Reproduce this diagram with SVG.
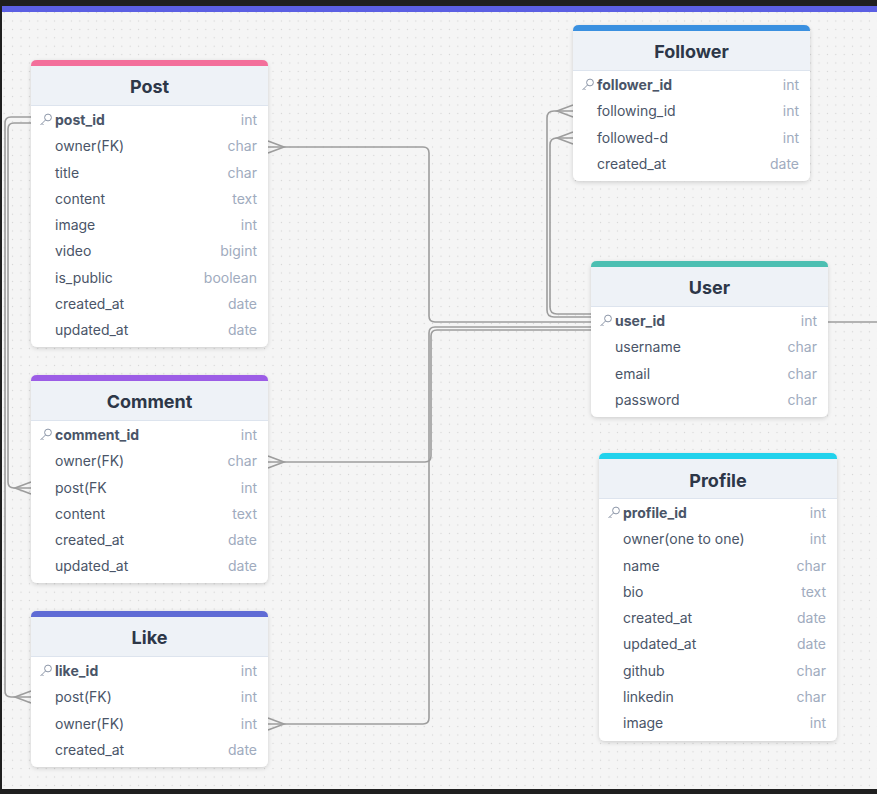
<svg xmlns="http://www.w3.org/2000/svg" xmlns:xlink="http://www.w3.org/1999/xlink" width="877" height="794" viewBox="0 0 877 794">
<style>
.tbl{fill:#ffffff;filter:url(#sh)}
.hdr{fill:#eef2f7}
.sep{stroke:#dde4ee;stroke-width:1}
.ttl{font-family:Inter,"Liberation Sans",sans-serif;font-size:18px;font-weight:700;fill:#2d3748;text-anchor:middle}
.fn{font-family:Inter,"Liberation Sans",sans-serif;font-size:14px;fill:#4a5568}
.pk{font-weight:700}
.ty{font-family:Inter,"Liberation Sans",sans-serif;font-size:14px;fill:#a0abbe;text-anchor:end}
.key{fill:none;stroke:#8b95a7;stroke-width:1}
.con{fill:none;stroke:#9d9d9d;stroke-width:1.6}
</style>
<defs>
<pattern id="dots" width="8.4" height="8.4" patternUnits="userSpaceOnUse">
<circle cx="4.2" cy="4.2" r="0.65" fill="#d2d2d2"/>
</pattern>
<filter id="sh" x="-10%" y="-10%" width="120%" height="120%">
<feDropShadow dx="0" dy="1.5" stdDeviation="2" flood-color="#000" flood-opacity="0.16"/>
</filter>
<g id="k">
<circle class="key" cx="3" cy="-2.5" r="3.4"/>
<path class="key" d="M0.6,-0.1 L-4.5,5 M-3,3.5 L-1.5,5"/>
</g>
</defs>
<rect width="877" height="794" fill="#f5f5f5"/>
<rect width="877" height="794" fill="url(#dots)"/>
<rect x="0" y="0" width="877" height="6" fill="#1f1f1f"/>
<rect x="0" y="6" width="877" height="6" fill="#5b5fe3"/>
<rect x="0" y="0" width="2" height="794" fill="#1f1f1f"/>
<rect x="0" y="789" width="877" height="5" fill="#1f1f1f"/>

<g id="connectors">
<path class="con" d="M268,147 H423 Q429,147 429,153 V316 Q429,322 435,322 H591"/>
<path class="con" d="M268,141 L284,147 L268,153"/>
<path class="con" d="M268,462 H425 Q431,462 431,456 V336 Q431,330 437,330 H591"/>
<path class="con" d="M268,456 L284,462 L268,468"/>
<path class="con" d="M268,724 H423 Q429,724 429,718 V333 Q429,327 435,327 H591"/>
<path class="con" d="M268,718 L284,724 L268,730"/>
<path class="con" d="M573,111 H554 Q547,111 547,118 V310 Q547,317 554,317 H591"/>
<path class="con" d="M573,105 L557,111 L573,117"/>
<path class="con" d="M573,138 H557 Q550,138 550,145 V307 Q550,314 557,314 H591"/>
<path class="con" d="M573,132 L557,138 L573,144"/>
<path class="con" d="M31,117 H11 Q5,117 5,123 V691 Q5,697 11,697 H31"/>
<path class="con" d="M31,691 L15,697 L31,703"/>
<path class="con" d="M31,123 H14 Q8,123 8,129 V482 Q8,488 14,488 H31"/>
<path class="con" d="M31,482 L15,488 L31,494"/>
<path class="con" d="M828,322 H877"/>
</g>

<g id="post" transform="translate(31,60)">
<rect class="tbl" width="237" height="287" rx="6"/>
<path class="hdr" d="M0,45 V6 Q0,0 6,0 H231 Q237,0 237,6 V45 Z"/>
<path fill="#f36f9b" d="M0,6 V5.5 Q0,0 6,0 H231 Q237,0 237,5.5 V6 Z"/>
<line class="sep" x1="0" y1="45.5" x2="237" y2="45.5"/>
<text class="ttl" x="118.5" y="33">Post</text>
<use href="#k" x="14" y="60"/>
<text class="fn pk" x="24" y="65">post_id</text><text class="ty" x="226" y="65">int</text>
<text class="fn" x="24" y="91.25">owner(FK)</text><text class="ty" x="226" y="91.25">char</text>
<text class="fn" x="24" y="117.5">title</text><text class="ty" x="226" y="117.5">char</text>
<text class="fn" x="24" y="143.75">content</text><text class="ty" x="226" y="143.75">text</text>
<text class="fn" x="24" y="170">image</text><text class="ty" x="226" y="170">int</text>
<text class="fn" x="24" y="196.25">video</text><text class="ty" x="226" y="196.25">bigint</text>
<text class="fn" x="24" y="222.5">is_public</text><text class="ty" x="226" y="222.5">boolean</text>
<text class="fn" x="24" y="248.75">created_at</text><text class="ty" x="226" y="248.75">date</text>
<text class="fn" x="24" y="275">updated_at</text><text class="ty" x="226" y="275">date</text>
</g>

<g id="comment" transform="translate(31,375)">
<rect class="tbl" width="237" height="208" rx="6"/>
<path class="hdr" d="M0,45 V6 Q0,0 6,0 H231 Q237,0 237,6 V45 Z"/>
<path fill="#9c5de6" d="M0,6 V5.5 Q0,0 6,0 H231 Q237,0 237,5.5 V6 Z"/>
<line class="sep" x1="0" y1="45.5" x2="237" y2="45.5"/>
<text class="ttl" x="118.5" y="33">Comment</text>
<use href="#k" x="14" y="60"/>
<text class="fn pk" x="24" y="65">comment_id</text><text class="ty" x="226" y="65">int</text>
<text class="fn" x="24" y="91.25">owner(FK)</text><text class="ty" x="226" y="91.25">char</text>
<text class="fn" x="24" y="117.5">post(FK</text><text class="ty" x="226" y="117.5">int</text>
<text class="fn" x="24" y="143.75">content</text><text class="ty" x="226" y="143.75">text</text>
<text class="fn" x="24" y="170">created_at</text><text class="ty" x="226" y="170">date</text>
<text class="fn" x="24" y="196.25">updated_at</text><text class="ty" x="226" y="196.25">date</text>
</g>

<g id="like" transform="translate(31,611)">
<rect class="tbl" width="237" height="156" rx="6"/>
<path class="hdr" d="M0,45 V6 Q0,0 6,0 H231 Q237,0 237,6 V45 Z"/>
<path fill="#5f6bd5" d="M0,6 V5.5 Q0,0 6,0 H231 Q237,0 237,5.5 V6 Z"/>
<line class="sep" x1="0" y1="45.5" x2="237" y2="45.5"/>
<text class="ttl" x="118.5" y="33">Like</text>
<use href="#k" x="14" y="60"/>
<text class="fn pk" x="24" y="65">like_id</text><text class="ty" x="226" y="65">int</text>
<text class="fn" x="24" y="91.25">post(FK)</text><text class="ty" x="226" y="91.25">int</text>
<text class="fn" x="24" y="117.5">owner(FK)</text><text class="ty" x="226" y="117.5">int</text>
<text class="fn" x="24" y="143.75">created_at</text><text class="ty" x="226" y="143.75">date</text>
</g>

<g id="follower" transform="translate(573,25)">
<rect class="tbl" width="237" height="156" rx="6"/>
<path class="hdr" d="M0,45 V6 Q0,0 6,0 H231 Q237,0 237,6 V45 Z"/>
<path fill="#3a90e0" d="M0,6 V5.5 Q0,0 6,0 H231 Q237,0 237,5.5 V6 Z"/>
<line class="sep" x1="0" y1="45.5" x2="237" y2="45.5"/>
<text class="ttl" x="118.5" y="33">Follower</text>
<use href="#k" x="14" y="60"/>
<text class="fn pk" x="24" y="65">follower_id</text><text class="ty" x="226" y="65">int</text>
<text class="fn" x="24" y="91.25">following_id</text><text class="ty" x="226" y="91.25">int</text>
<text class="fn" x="24" y="117.5">followed-d</text><text class="ty" x="226" y="117.5">int</text>
<text class="fn" x="24" y="143.75">created_at</text><text class="ty" x="226" y="143.75">date</text>
</g>

<g id="user" transform="translate(591,261)">
<rect class="tbl" width="237" height="156" rx="6"/>
<path class="hdr" d="M0,45 V6 Q0,0 6,0 H231 Q237,0 237,6 V45 Z"/>
<path fill="#4cbfb2" d="M0,6 V5.5 Q0,0 6,0 H231 Q237,0 237,5.5 V6 Z"/>
<line class="sep" x1="0" y1="45.5" x2="237" y2="45.5"/>
<text class="ttl" x="118.5" y="33">User</text>
<use href="#k" x="14" y="60"/>
<text class="fn pk" x="24" y="65">user_id</text><text class="ty" x="226" y="65">int</text>
<text class="fn" x="24" y="91.25">username</text><text class="ty" x="226" y="91.25">char</text>
<text class="fn" x="24" y="117.5">email</text><text class="ty" x="226" y="117.5">char</text>
<text class="fn" x="24" y="143.75">password</text><text class="ty" x="226" y="143.75">char</text>
</g>

<g id="profile" transform="translate(599,453)">
<rect class="tbl" width="238" height="288" rx="6"/>
<path class="hdr" d="M0,45 V6 Q0,0 6,0 H232 Q238,0 238,6 V45 Z"/>
<path fill="#22d2ec" d="M0,6 V5.5 Q0,0 6,0 H232 Q238,0 238,5.5 V6 Z"/>
<line class="sep" x1="0" y1="45.5" x2="238" y2="45.5"/>
<text class="ttl" x="119" y="34">Profile</text>
<use href="#k" x="14" y="60"/>
<text class="fn pk" x="24" y="65">profile_id</text><text class="ty" x="227" y="65">int</text>
<text class="fn" x="24" y="91.25">owner(one to one)</text><text class="ty" x="227" y="91.25">int</text>
<text class="fn" x="24" y="117.5">name</text><text class="ty" x="227" y="117.5">char</text>
<text class="fn" x="24" y="143.75">bio</text><text class="ty" x="227" y="143.75">text</text>
<text class="fn" x="24" y="170">created_at</text><text class="ty" x="227" y="170">date</text>
<text class="fn" x="24" y="196.25">updated_at</text><text class="ty" x="227" y="196.25">date</text>
<text class="fn" x="24" y="222.5">github</text><text class="ty" x="227" y="222.5">char</text>
<text class="fn" x="24" y="248.75">linkedin</text><text class="ty" x="227" y="248.75">char</text>
<text class="fn" x="24" y="275">image</text><text class="ty" x="227" y="275">int</text>
</g>
</svg>
